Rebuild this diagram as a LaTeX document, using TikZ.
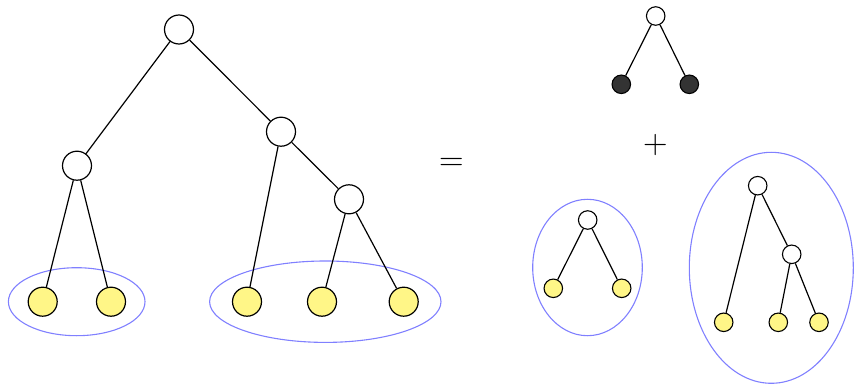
\documentclass[tikz,border=0pt]{standalone}
\usepackage{fontspec}
\usetikzlibrary{shapes.geometric}
\definecolor{leafyellow}{RGB}{255,246,135}
\definecolor{groupblue}{RGB}{128,128,255}
\definecolor{darkleaf}{RGB}{51,51,51}
\tikzset{
  inner/.style={circle, draw=black, line width=1.2pt, fill=white, inner sep=0pt, minimum size=29pt},
  leaf/.style={inner, fill=leafyellow},
  sinner/.style={circle, draw=black, line width=1.1pt, fill=white, inner sep=0pt, minimum size=18.5pt},
  sleaf/.style={sinner, fill=leafyellow},
  sdark/.style={sinner, fill=darkleaf},
  edge/.style={draw=black, line width=1.2pt},
  grp/.style={draw=groupblue, line width=1.1pt},
  sym/.style={inner sep=0pt, font=\fontsize{34}{34}\selectfont}
}
\begin{document}
\begin{tikzpicture}[x=1pt, y=-1pt]
  \useasboundingbox (0,0) rectangle (854,385);

  % grouping ellipses
  \draw[grp] (76.7,301.7) ellipse [x radius=68.3, y radius=34];
  \draw[grp] (325.3,301.7) ellipse [x radius=115.7, y radius=40.7];
  \draw[grp] (587.5,267.5) ellipse [x radius=54.8, y radius=68.2];
  \draw[grp] (771.3,267.8) ellipse [x radius=82, y radius=115.5];

  % full tree
  \node[inner] (r)  at (179,29.5)  {};
  \node[inner] (a)  at (77,165.7)  {};
  \node[inner] (b)  at (281,131.7) {};
  \node[inner] (c)  at (349,199.3) {};
  \node[leaf]  (l1) at (42.7,301.7) {};
  \node[leaf]  (l2) at (111,301.7)  {};
  \node[leaf]  (l3) at (247,301.7)  {};
  \node[leaf]  (l4) at (322,301.7)  {};
  \node[leaf]  (l5) at (403.7,301.7) {};
  \path[edge] (r) -- (a) (r) -- (b) (a) -- (l1) (a) -- (l2)
              (b) -- (l3) (b) -- (c) (c) -- (l4) (c) -- (l5);

  \node[sym] (eq) at (451.3,164.5) {=};

  % top tree with dark leaves
  \node[sinner] (t)  at (655.7,16)  {};
  \node[sdark]  (t1) at (621.3,84.3) {};
  \node[sdark]  (t2) at (689.3,84.3) {};
  \path[edge] (t) -- (t1) (t) -- (t2);

  \node[sym] (plus) at (655.3,145.5) {+};

  % small subtree
  \node[sinner] (u)  at (587.7,220)   {};
  \node[sleaf]  (u1) at (553.3,288.3) {};
  \node[sleaf]  (u2) at (621.7,288.3) {};
  \path[edge] (u) -- (u1) (u) -- (u2);

  % larger subtree
  \node[sinner] (v)  at (757.7,185.7) {};
  \node[sinner] (w)  at (791.7,254.3) {};
  \node[sleaf]  (v1) at (723.7,322.3) {};
  \node[sleaf]  (v2) at (778.3,322.3) {};
  \node[sleaf]  (v3) at (819,322.3)   {};
  \path[edge] (v) -- (v1) (v) -- (w) (w) -- (v2) (w) -- (v3);
\end{tikzpicture}
\end{document}
